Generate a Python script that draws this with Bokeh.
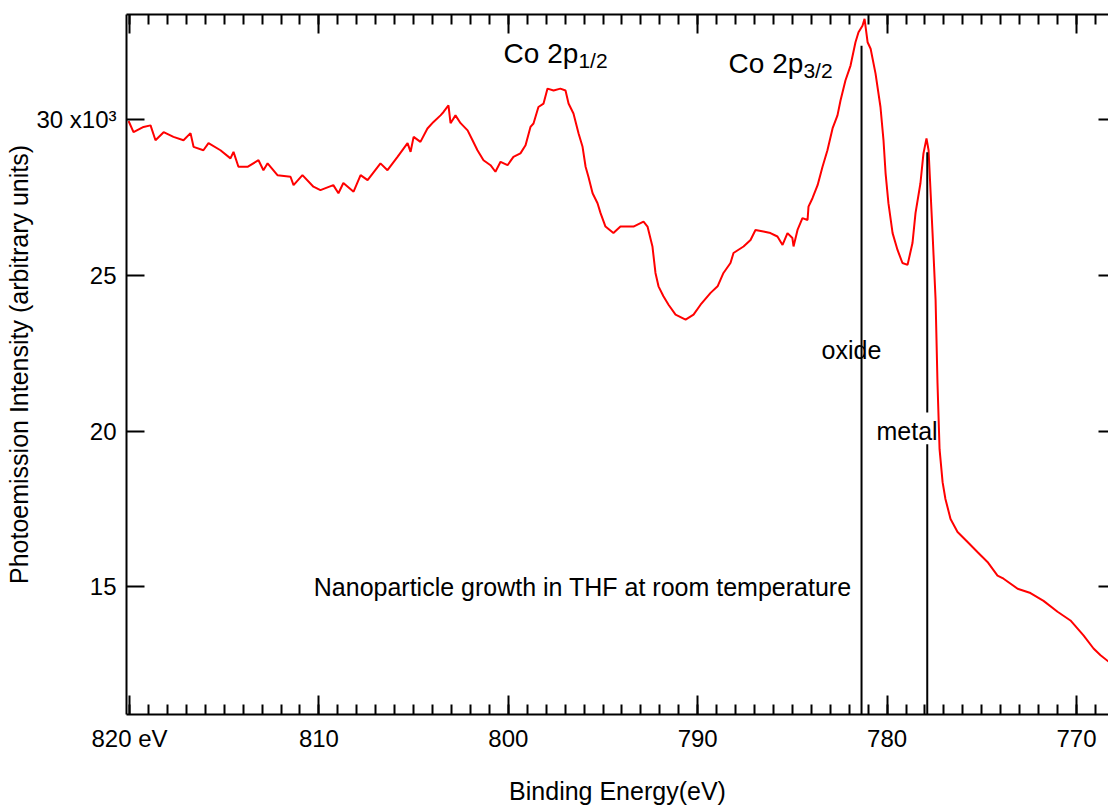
from bokeh.plotting import figure
from bokeh.models import Range1d, LinearAxis, FixedTicker, Label, ColumnDataSource
from bokeh.embed import file_html
from bokeh.resources import INLINE

# ---- data ----
energy = [
    820.05, 819.79, 819.26, 818.89, 818.63, 818.20, 817.68, 817.15, 816.78, 816.62,
    816.10, 815.83, 815.20, 814.67, 814.51, 814.25, 813.77, 813.19, 812.93, 812.71,
    812.19, 811.50, 811.34, 810.87, 810.29, 809.92, 809.24, 808.97, 808.71, 808.17,
    807.80, 807.43, 806.75, 806.38, 805.85, 805.32, 805.16, 805.00, 804.64, 804.27,
    803.95, 803.58, 803.42, 803.16, 803.05, 802.79, 802.52, 802.15, 801.89, 801.63,
    801.31, 800.94, 800.68, 800.41, 800.04, 799.73, 799.36, 799.09, 798.83, 798.67,
    798.41, 798.14, 797.93, 797.61, 797.25, 796.98, 796.82, 796.56, 796.29, 796.08,
    795.92, 795.77, 795.55, 795.29, 795.13, 794.87, 794.45, 794.08, 793.39, 792.86,
    792.65, 792.39, 792.23, 792.07, 791.81, 791.54, 791.17, 790.64, 790.22, 789.85,
    789.32, 788.95, 788.64, 788.27, 788.11, 787.58, 787.21, 786.95, 786.53, 786.16,
    785.79, 785.52, 785.26, 785.00, 784.94, 784.73, 784.47, 784.20, 784.15, 783.94,
    783.67, 783.41, 783.15, 782.88, 782.62, 782.46, 782.20, 781.93, 781.67, 781.51,
    781.30, 781.19, 781.03, 780.87, 780.61, 780.35, 780.19, 780.08, 779.93, 779.71,
    779.45, 779.19, 778.92, 778.66, 778.50, 778.24, 778.08, 777.92, 777.81, 777.60,
    777.44, 777.34, 777.23, 777.07, 776.92, 776.65, 776.28, 775.75, 775.23, 774.70,
    774.17, 773.85, 773.11, 772.43, 771.74, 771.00, 770.32, 769.63, 769.10, 768.73,
    768.31,
]
intensity = [
    29.96, 29.60, 29.77, 29.82, 29.34, 29.60, 29.45, 29.34, 29.57, 29.13,
    29.02, 29.25, 29.02, 28.76, 28.97, 28.49, 28.49, 28.70, 28.38, 28.60,
    28.22, 28.17, 27.90, 28.22, 27.85, 27.74, 27.90, 27.64, 27.97, 27.69,
    28.22, 28.06, 28.60, 28.38, 28.81, 29.25, 28.97, 29.45, 29.29, 29.72,
    29.93, 30.14, 30.25, 30.46, 29.89, 30.14, 29.89, 29.66, 29.34, 29.02,
    28.70, 28.54, 28.33, 28.65, 28.54, 28.81, 28.92, 29.18, 29.77, 29.88,
    30.41, 30.52, 31.00, 30.94, 31.00, 30.94, 30.52, 30.20, 29.56, 29.13,
    28.49, 28.17, 27.64, 27.32, 27.00, 26.57, 26.36, 26.57, 26.57, 26.73,
    26.57, 25.93, 25.08, 24.65, 24.33, 24.06, 23.74, 23.58, 23.74, 24.06,
    24.44, 24.65, 25.08, 25.40, 25.72, 25.93, 26.14, 26.46, 26.41, 26.36,
    26.25, 25.98, 26.36, 26.20, 25.93, 26.46, 26.84, 26.78, 27.21, 27.48,
    27.90, 28.49, 29.02, 29.72, 30.14, 30.62, 31.26, 31.74, 32.49, 32.81,
    33.02, 33.24, 32.49, 32.28, 31.48, 30.41, 29.34, 28.28, 27.32, 26.36,
    25.82, 25.40, 25.34, 26.04, 27.00, 27.96, 28.92, 29.40, 29.02, 26.36,
    24.22, 21.56, 19.42, 18.36, 17.82, 17.18, 16.76, 16.44, 16.12, 15.80,
    15.36, 15.26, 14.94, 14.80, 14.55, 14.20, 13.92, 13.44, 13.02, 12.80,
    12.60,
]

x_major_ticks = [770, 780, 790, 800, 810, 820]
x_minor_ticks = list(range(769, 821))
y_major_ticks = [15, 20, 25, 30]
y_tick_labels = {30: "30 x10\u00b3", 25: "25", 20: "20", 15: "15"}
x_tick_labels = {820: "820 eV"}

# reference markers (oxide / metal)
marker_energy = [781.35, 777.88]
oxide_span = [10.9, 32.38]
metal_spans = [[10.9, 19.58], [20.6, 28.96]]

FONT = "Liberation Sans"

p = figure(width=1108, height=807,
           x_range=Range1d(820.16, 768.31), y_range=Range1d(10.9, 33.38),
           output_backend="svg", toolbar_location=None,
           min_border_left=126, min_border_right=0, min_border_top=14,
           min_border_bottom=91)
p.xgrid.visible = False
p.ygrid.visible = False
p.outline_line_color = None
p.background_fill_color = "white"
p.border_fill_color = "white"

def style_x(ax, labels=True):
    ax.ticker = FixedTicker(ticks=x_major_ticks, minor_ticks=x_minor_ticks)
    ax.major_tick_in = 19
    ax.major_tick_out = 0
    ax.minor_tick_in = 10
    ax.minor_tick_out = 0
    ax.axis_line_width = 2
    ax.major_tick_line_width = 2
    ax.minor_tick_line_width = 2
    ax.axis_line_color = "black"
    if labels:
        ax.major_label_text_font = FONT
        ax.major_label_text_font_size = "24px"
        ax.major_label_text_color = "black"
        ax.major_label_standoff = 10
        ax.major_label_overrides = x_tick_labels
    else:
        ax.major_label_text_font_size = "1px"
        ax.major_label_text_color = None
        ax.major_label_standoff = 0

xb = p.xaxis[0]
style_x(xb)
xb.axis_label = "Binding Energy(eV)"
xb.axis_label_text_font = FONT
xb.axis_label_text_font_size = "25px"
xb.axis_label_text_font_style = "normal"
xb.axis_label_text_color = "black"
xb.axis_label_standoff = 22

xt = LinearAxis()
style_x(xt, labels=False)
p.add_layout(xt, "above")

yl = p.yaxis[0]
yl.ticker = FixedTicker(ticks=y_major_ticks)
yl.major_tick_in = 18
yl.major_tick_out = 0
yl.minor_tick_line_color = None
yl.axis_line_width = 2
yl.major_tick_line_width = 2
yl.major_label_text_font = FONT
yl.major_label_text_font_size = "24px"
yl.major_label_text_color = "black"
yl.major_label_standoff = 10
yl.major_label_overrides = y_tick_labels
yl.axis_label = "Photoemission Intensity (arbitrary units)"
yl.axis_label_text_font = FONT
yl.axis_label_text_font_size = "25px"
yl.axis_label_text_font_style = "normal"
yl.axis_label_text_color = "black"
yl.axis_label_standoff = 0

yr = LinearAxis(ticker=FixedTicker(ticks=y_major_ticks))
yr.major_tick_in = 10
yr.major_tick_out = 0
yr.minor_tick_line_color = None
yr.axis_line_color = None
yr.major_tick_line_width = 2
yr.major_label_text_font_size = "1px"
yr.major_label_text_color = None
yr.major_label_standoff = 0
p.add_layout(yr, "right")

src = ColumnDataSource(dict(x=energy, y=intensity))
p.line("x", "y", source=src, line_color="#ff0000", line_width=2)

# marker lines
p.segment(x0=[marker_energy[0]], y0=[oxide_span[0]], x1=[marker_energy[0]], y1=[oxide_span[1]],
          line_color="black", line_width=2)
p.segment(x0=[marker_energy[1]] * 2, y0=[s[0] for s in metal_spans],
          x1=[marker_energy[1]] * 2, y1=[s[1] for s in metal_spans],
          line_color="black", line_width=2)

def lab(x, y, text, size, align="left", baseline="alphabetic"):
    p.add_layout(Label(x=x, y=y, text=text, text_font=FONT, text_font_size=size,
                       text_color="black", text_align=align, text_baseline=baseline))

lab(800.25, 32.13, "Co 2p", "28px")
lab(796.30, 31.90, "1/2", "21px")
lab(788.37, 31.81, "Co 2p", "28px")
lab(784.42, 31.58, "3/2", "21px")
lab(783.46, 22.62, "oxide", "25px", baseline="middle")
lab(780.56, 20.0, "metal", "25px", baseline="middle")
lab(781.88, 15.0, "Nanoparticle growth in THF at room temperature", "25px",
    align="right", baseline="middle")

open("out.html", "w").write(file_html(p, INLINE))
